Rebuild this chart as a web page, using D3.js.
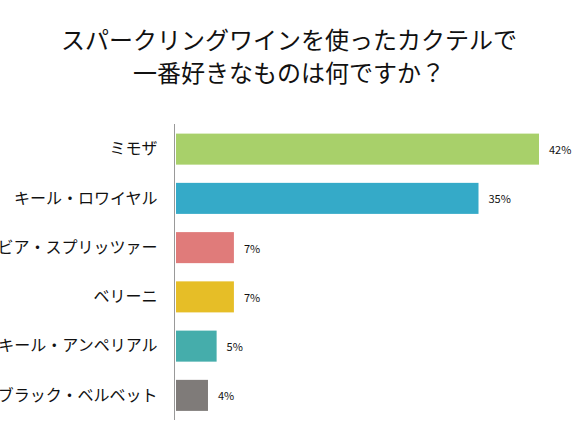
<!DOCTYPE html>
<html>
<head>
<meta charset="utf-8">
<script src="https://cdn.jsdelivr.net/npm/d3@7"></script>
<style>
  body { margin: 0; background: #fff; }
  text { font-family: "Noto Sans CJK JP", "Noto Sans", sans-serif; }
</style>
</head>
<body>
<div id="chart"></div>
<script>
// data
var titleLines = ["スパークリングワインを使ったカクテルで", "一番好きなものは何ですか？"];
var categories = ["ミモザ", "キール・ロワイヤル", "ビア・スプリッツァー", "ベリーニ", "キール・アンペリアル", "ブラック・ベルベット"];
var values = [42, 35, 6.7, 6.7, 4.7, 3.7];
var colors = ["#a8d06a", "#35aac8", "#e07b7a", "#e6be27", "#45adab", "#7f7b79"];

var width = 578, height = 431;

var svg = d3.select("#chart")
  .append("svg")
  .attr("width", width)
  .attr("height", height);

// title
svg.selectAll(".title")
  .data(titleLines)
  .enter().append("text")
  .attr("class", "title")
  .attr("x", 289)
  .attr("y", function(d, i) { return 38 + i * 33; })
  .attr("text-anchor", "middle")
  .attr("dominant-baseline", "central")
  .attr("font-size", 24)
  .attr("fill", "#111")
  .text(function(d) { return d; });

// scales
var x = d3.scaleLinear().domain([0, 42]).range([176, 539]);
var y = d3.scaleBand()
  .domain(categories)
  .range([124.5, 420])
  .paddingInner(0.37)
  .paddingOuter(0.185);

var rows = categories.map(function(c, i) { return {name: c, value: values[i], color: colors[i]}; });

// bars
svg.selectAll(".bar")
  .data(rows)
  .enter().append("rect")
  .attr("class", "bar")
  .attr("x", x(0))
  .attr("y", function(d) { return y(d.name); })
  .attr("width", function(d) { return x(d.value) - x(0); })
  .attr("height", y.bandwidth())
  .attr("fill", function(d) { return d.color; });

// value labels
var fmt = d3.format(".0f");
svg.selectAll(".val")
  .data(rows)
  .enter().append("text")
  .attr("class", "val")
  .attr("x", function(d) { return x(d.value) + 10; })
  .attr("y", function(d) { return y(d.name) + y.bandwidth() / 2; })
  .attr("dominant-baseline", "central")
  .attr("font-size", 11)
  .attr("fill", "#111")
  .text(function(d) { return fmt(d.value) + "%"; });

// category axis
var axis = svg.append("g")
  .attr("transform", "translate(174.5,0)")
  .call(d3.axisLeft(y).tickSize(0).tickPadding(17));
axis.select(".domain").attr("stroke", "#999").attr("d", "M0,124V420");
axis.selectAll("text")
  .attr("font-family", "'Noto Sans CJK JP', sans-serif")
  .attr("font-size", 16)
  .attr("fill", "#111");
</script>
</body>
</html>
